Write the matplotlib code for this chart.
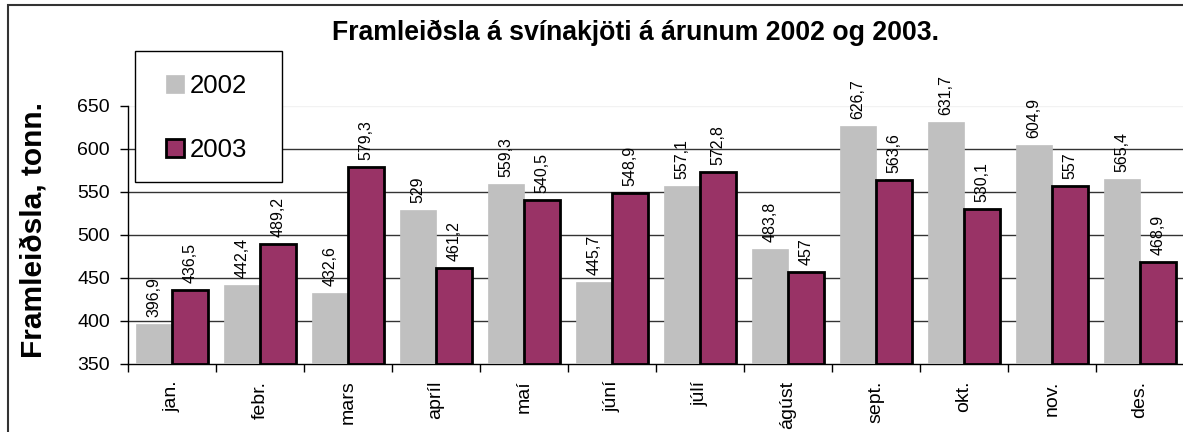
import matplotlib
matplotlib.use("Agg")
import matplotlib.pyplot as plt
from matplotlib.patches import Rectangle
import numpy as np

plt.rcParams['font.family'] = ['Liberation Sans', 'DejaVu Sans']

months = ["jan.", "febr.", "mars", "apríl", "maí", "júní", "júlí", "ágúst",
          "sept.", "okt.", "nov.", "des."]
v2002 = [396.9, 442.4, 432.6, 529, 559.3, 445.7, 557.1, 483.8, 626.7, 631.7, 604.9, 565.4]
v2003 = [436.5, 489.2, 579.3, 461.2, 540.5, 548.9, 572.8, 457, 563.6, 530.1, 557, 468.9]
yticks = [350, 400, 450, 500, 550, 600, 650]

W, H = 1183, 432
fig = plt.figure(figsize=(W / 100, H / 100), dpi=100)
ax = fig.add_axes([128 / W, 1 - 364 / H, 1056 / W, (364 - 106) / H])

x = np.arange(len(months))
bw = 0.41
off = 0.205
ax.bar(x - off, [v - 350 for v in v2002], bw, bottom=350, color="#C0C0C0",
       edgecolor="#C0C0C0", linewidth=0.5, label="2002", zorder=3)
ax.bar(x + off, [v - 350 for v in v2003], bw, bottom=350, color="#993366",
       edgecolor="black", linewidth=2.0, label="2003", zorder=3)

def fmt(v):
    return f"{v:g}".replace(".", ",")

for xi, v in zip(x, v2002):
    ax.annotate(fmt(v), (xi - off, v), xytext=(0, 5), textcoords="offset points",
                rotation=90, ha="center", va="bottom", fontsize=11.5, zorder=4)
for xi, v in zip(x, v2003):
    ax.annotate(fmt(v), (xi + off, v), xytext=(0, 5), textcoords="offset points",
                rotation=90, ha="center", va="bottom", fontsize=11.5, zorder=4)

ax.set_xlim(-0.5, len(months) - 0.5)
ax.set_ylim(350, 650)
ax.set_yticks(yticks)
ax.set_yticklabels([str(t) for t in yticks], fontsize=14)
ax.tick_params(axis="y", direction="out", length=6, width=1, pad=7)

ax.set_xticks(x)
ax.set_xticklabels(months, rotation=90, fontsize=14, va="top", ha="center")
ax.tick_params(axis="x", which="major", length=0, pad=12)
ax.set_xticks(np.arange(-0.5, len(months), 1.0), minor=True)
ax.tick_params(axis="x", which="minor", direction="out", length=6, width=1)

for t in yticks[1:-1]:
    ax.axhline(t, color="#333333", linewidth=1, zorder=1)
ax.axhline(650, color="#F2F2F2", linewidth=1, zorder=1)

for s in ["top", "right"]:
    ax.spines[s].set_visible(False)
ax.spines["left"].set_linewidth(1)
ax.spines["bottom"].set_linewidth(1)

# legend box
fig.patches.append(Rectangle((135 / W, 1 - 182 / H), 147 / W, 131 / H,
                             transform=fig.transFigure, facecolor="white",
                             edgecolor="black", linewidth=1, zorder=5))
handles, labels = ax.get_legend_handles_labels()
leg = fig.legend(handles, labels, loc="upper left",
                 bbox_to_anchor=(166 / W, 1 - 74 / H),
                 bbox_transform=fig.transFigure, fontsize=18.5, frameon=False,
                 borderpad=0, labelspacing=1.55, handlelength=0.7,
                 handleheight=0.7, handletextpad=0.22, borderaxespad=0)
leg.set_zorder(6)

fig.text(635 / W, 1 - 33 / H, "Framleiðsla á svínakjöti á árunum 2002 og 2003.",
         ha="center", va="center", fontsize=19.2, fontweight="bold")
fig.text(34 / W, 1 - 230 / H, "Framleiðsla, tonn.", rotation=90,
         ha="center", va="center", fontsize=21.5, fontweight="bold")

fig.patches.append(Rectangle((7.5 / W, -0.1), 1.2, 1.1 - 5.5 / H,
                             transform=fig.transFigure, fill=False,
                             edgecolor="#333333", linewidth=1.5))

fig.savefig("out.png", dpi=100)
